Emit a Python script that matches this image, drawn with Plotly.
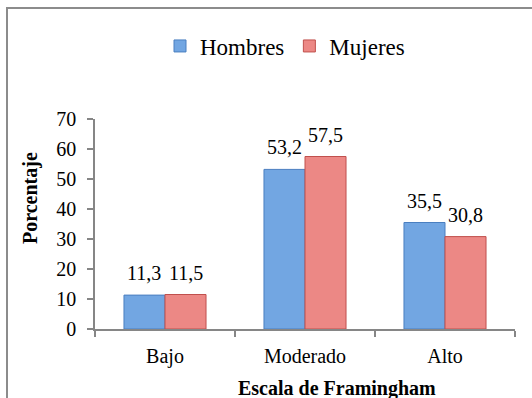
import plotly.graph_objects as go

categories = ["Bajo", "Moderado", "Alto"]
hombres = [11.3, 53.2, 35.5]
mujeres = [11.5, 57.5, 30.8]
y_ticks = [0, 10, 20, 30, 40, 50, 60, 70]

FONT = "Liberation Serif"
BLUE = "#72a6e2"
BLUE_LINE = "#4a7fc0"
RED = "#ec8885"
RED_LINE = "#c0504d"
BARGAP = 0.414

fig = go.Figure()
fig.add_trace(go.Bar(name="Hombres", x=categories, y=hombres,
                     marker=dict(color=BLUE, line=dict(color=BLUE_LINE, width=1))))
fig.add_trace(go.Bar(name="Mujeres", x=categories, y=mujeres,
                     marker=dict(color=RED, line=dict(color=RED_LINE, width=1))))

half = (1 - BARGAP) / 4
annotations = []
for i, (h, m) in enumerate(zip(hombres, mujeres)):
    for off, v in ((-half, h), (half, m)):
        annotations.append(dict(x=i + off, y=v, xref="x", yref="y",
                                text=f"{v:.1f}".replace(".", ","),
                                showarrow=False, yanchor="bottom", yshift=9,
                                font=dict(family=FONT, size=20, color="#000")))

annotations.append(dict(text="<b>Porcentaje</b>", textangle=-90, showarrow=False,
                        xref="paper", yref="paper", x=(30 - 95) / 420, y=(329 - 198) / 210,
                        xanchor="center", yanchor="middle",
                        font=dict(family=FONT, size=20, color="#000")))
annotations.append(dict(text="<b>Escala de Framingham</b>", showarrow=False,
                        xref="paper", yref="paper", x=(337 - 95) / 420, y=(329 - 388) / 210,
                        xanchor="center", yanchor="middle",
                        font=dict(family=FONT, size=20, color="#000")))

fig.update_layout(
    width=532, height=398,
    margin=dict(l=95, r=17, t=119, b=69),
    paper_bgcolor="white", plot_bgcolor="white",
    barmode="group", bargap=BARGAP, bargroupgap=0,
    font=dict(family=FONT, size=20, color="#000"),
    separators=",.",
    showlegend=True,
    legend=dict(orientation="h", x=(160 - 95) / 420, xanchor="left",
                y=(329 - 46) / 210, yanchor="middle",
                font=dict(family=FONT, size=23, color="#000"),
                bgcolor="rgba(0,0,0,0)"),
    xaxis=dict(showline=True, linecolor="#868686", linewidth=1.5,
               ticks="outside", tickson="boundaries", ticklen=6, tickcolor="#868686",
               tickwidth=1.5, ticklabelstandoff=8, showgrid=False, zeroline=False,
               tickfont=dict(family=FONT, size=20, color="#000")),
    yaxis=dict(range=[0, 70], tickvals=y_ticks, showline=True, linecolor="#868686",
               linewidth=1.5, ticks="outside", ticklen=6, tickcolor="#868686",
               tickwidth=1.5, ticklabelstandoff=7, showgrid=False, zeroline=False,
               tickfont=dict(family=FONT, size=20, color="#000")),
    annotations=annotations,
    shapes=[dict(type="rect", xref="paper", yref="paper",
                 x0=(7 - 95) / 420, x1=2.0, y0=-2.0, y1=(329 - 8) / 210,
                 line=dict(color="#8c8c8c", width=2), fillcolor="rgba(0,0,0,0)",
                 layer="below")],
)

fig.write_html("out.html")
